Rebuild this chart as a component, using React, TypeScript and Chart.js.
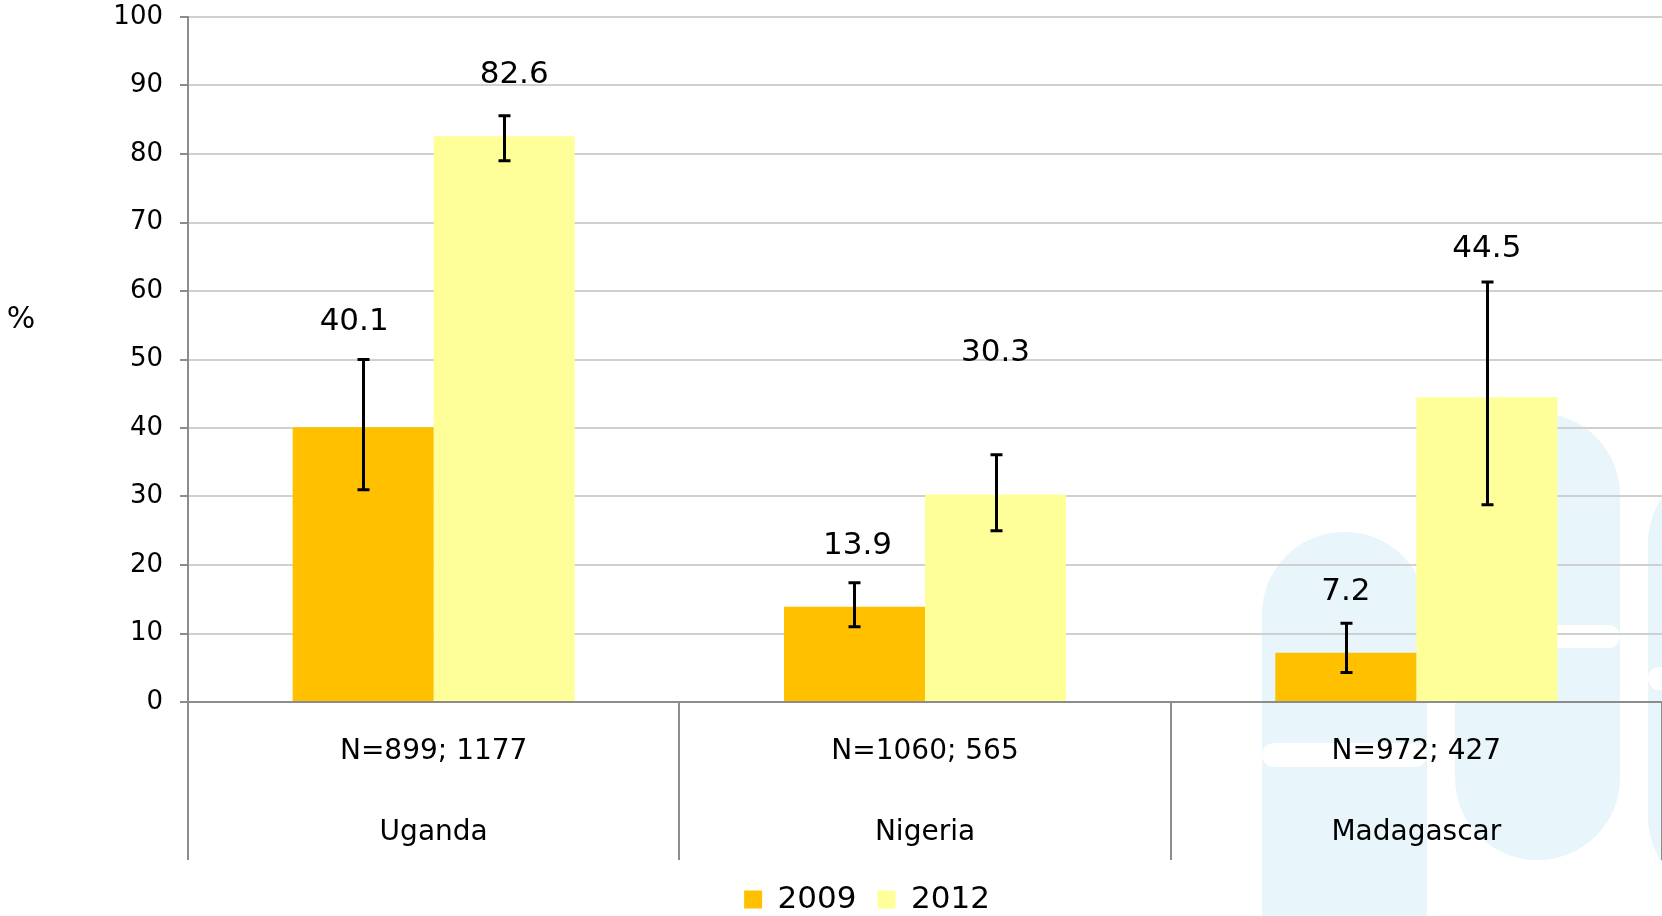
import React, { useEffect, useRef } from 'react';
import { Chart, registerables } from 'chart.js';

Chart.register(...registerables);

// ---- data ----
const countries = ['Uganda', 'Nigeria', 'Madagascar'];
const sampleSizes = ['N=899; 1177', 'N=1060; 565', 'N=972; 427'];
const seriesNames = ['2009', '2012'];
const values2009 = [40.1, 13.9, 7.2];
const values2012 = [82.6, 30.3, 44.5];
const errLow2009 = [31.0, 11.0, 4.3];
const errHigh2009 = [50.0, 17.4, 11.5];
const errLow2012 = [79.0, 25.0, 28.8];
const errHigh2012 = [85.6, 36.1, 61.3];
const yMin = 0;
const yMax = 100;
const yStep = 10;

const FONT = '"DejaVu Sans", Verdana, sans-serif';

const watermarkPlugin = {
  id: 'watermark',
  beforeDraw(chart: any) {
    const ctx = chart.ctx;
    ctx.save();
    ctx.fillStyle = '#E8F6FB';
    const rr = (x: number, y: number, w: number, h: number, r: number) => {
      ctx.beginPath();
      (ctx as any).roundRect(x, y, w, h, r);
      ctx.fill();
    };
    rr(1262, 532, 165, 500, 82);
    rr(1455, 413, 165, 447, 82);
    rr(1648, 461, 170, 438, 82);
    ctx.fillStyle = '#FFFFFF';
    rr(1262, 743, 165, 24, 12);
    rr(1455, 625, 165, 23, 12);
    rr(1648, 667, 60, 23, 12);
    ctx.restore();
  },
};

const errorBarPlugin = {
  id: 'errorBars',
  afterDatasetsDraw(chart: any) {
    const ctx = chart.ctx;
    const yScale = chart.scales.y;
    const lows = [errLow2009, errLow2012];
    const highs = [errHigh2009, errHigh2012];
    ctx.save();
    ctx.strokeStyle = '#000000';
    ctx.lineWidth = 3;
    chart.data.datasets.forEach((_: any, d: number) => {
      const meta = chart.getDatasetMeta(d);
      meta.data.forEach((bar: any, i: number) => {
        const x = Math.round(bar.x) + 0.5;
        const yl = yScale.getPixelForValue(lows[d][i]);
        const yh = yScale.getPixelForValue(highs[d][i]);
        ctx.beginPath();
        ctx.moveTo(x, yl);
        ctx.lineTo(x, yh);
        ctx.moveTo(x - 6, yl);
        ctx.lineTo(x + 6, yl);
        ctx.moveTo(x - 6, yh);
        ctx.lineTo(x + 6, yh);
        ctx.stroke();
      });
    });
    ctx.restore();
  },
};

const valueLabelPlugin = {
  id: 'valueLabels',
  afterDatasetsDraw(chart: any, _args: any, opts: any) {
    const ctx = chart.ctx;
    const yScale = chart.scales.y;
    const highs = [errHigh2009, errHigh2012];
    ctx.save();
    ctx.fillStyle = '#000000';
    ctx.font = `31px ${FONT}`;
    ctx.textAlign = 'center';
    ctx.textBaseline = 'middle';
    chart.data.datasets.forEach((ds: any, d: number) => {
      const meta = chart.getDatasetMeta(d);
      meta.data.forEach((bar: any, i: number) => {
        const lift = opts.lift[i][d];
        const dx = opts.dx[i][d];
        const y = yScale.getPixelForValue(highs[d][i]) - lift;
        ctx.fillText(ds.data[i].toFixed(1), bar.x + dx, y);
      });
    });
    ctx.restore();
  },
};

const unitLabelPlugin = {
  id: 'unitLabel',
  afterDraw(chart: any) {
    const ctx = chart.ctx;
    const a = chart.chartArea;
    ctx.save();
    ctx.fillStyle = '#000000';
    ctx.font = `30px ${FONT}`;
    ctx.textAlign = 'center';
    ctx.textBaseline = 'middle';
    ctx.fillText('%', 21, a.top + (a.bottom - a.top) * 0.443);
    ctx.restore();
  },
};

export default function App() {
  const canvasRef = useRef<HTMLCanvasElement | null>(null);

  useEffect(() => {
    if (!canvasRef.current) return;
    const chart = new Chart(canvasRef.current, {
      type: 'bar',
      data: {
        labels: countries.map((c, i) => [sampleSizes[i], c]),
        datasets: [
          {
            label: seriesNames[0],
            data: values2009,
            backgroundColor: '#FFC000',
            borderWidth: 0,
            barPercentage: 1,
            categoryPercentage: 0.574,
          },
          {
            label: seriesNames[1],
            data: values2012,
            backgroundColor: '#FFFF99',
            borderWidth: 0,
            barPercentage: 1,
            categoryPercentage: 0.574,
          },
        ],
      },
      options: {
        animation: false,
        responsive: false,
        layout: { padding: { top: 17, right: 0, bottom: -9, left: 72 } },
        scales: {
          x: {
            offset: true,
            grid: {
              offset: true,
              drawOnChartArea: false,
              drawTicks: true,
              tickLength: 158,
              color: '#8C8C8C',
              lineWidth: 2,
            },
            border: { color: '#8C8C8C', width: 2 },
            ticks: {
              color: '#000000',
              font: { family: FONT, size: 28, lineHeight: 81 / 28 },
              padding: -149,
              maxRotation: 0,
              autoSkip: false,
            },
            afterFit: (s: any) => {
              s.height = 161;
            },
          },
          y: {
            min: yMin,
            max: yMax,
            ticks: {
              stepSize: yStep,
              color: '#000000',
              font: { family: FONT, size: 26, lineHeight: 1.2 },
              padding: 17,
            },
            grid: {
              color: '#D0D0D0',
              lineWidth: 2,
              tickColor: '#8C8C8C',
              tickLength: 8,
              drawTicks: true,
            },
            border: { color: '#8C8C8C', width: 2 },
            afterFit: (s: any) => {
              s.width = 116;
              s.paddingTop = 14;
              s.paddingBottom = 14;
            },
          },
        },
        plugins: {
          legend: {
            position: 'bottom',
            labels: {
              boxWidth: 18,
              boxHeight: 18,
              padding: 21,
              color: '#000000',
              font: { family: FONT, size: 31 },
            },
          },
          tooltip: { enabled: false },
          valueLabels: {
            lift: [
              [38, 41],
              [37, 102],
              [31, 33],
            ],
            dx: [
              [-9, 10],
              [3, 0],
              [0, 0],
            ],
          },
        } as any,
      },
      plugins: [watermarkPlugin, errorBarPlugin, valueLabelPlugin, unitLabelPlugin],
    });
    return () => chart.destroy();
  }, []);

  return (
    <div style={{ position: 'fixed', left: 0, top: 0, width: 1662, height: 916, background: '#FFFFFF' }}>
      <canvas ref={canvasRef} width={1662} height={916} style={{ display: 'block' }} />
    </div>
  );
}
